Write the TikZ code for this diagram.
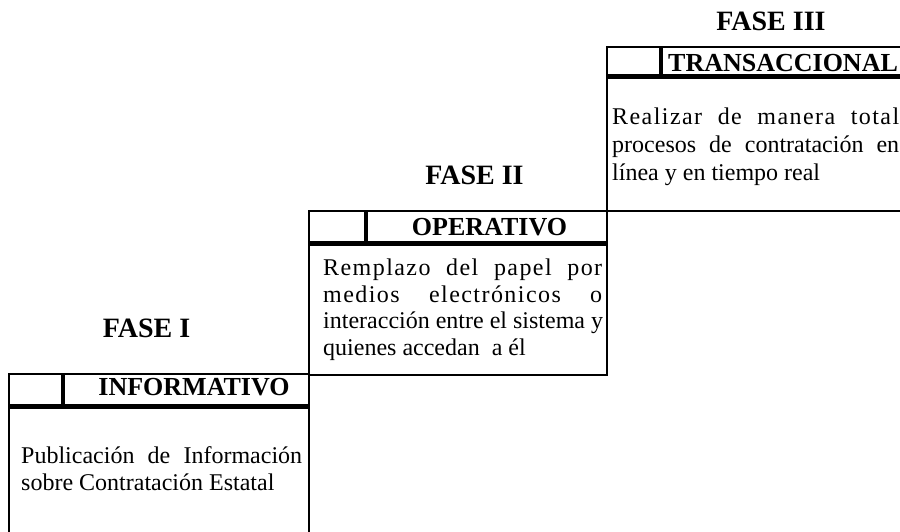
\documentclass[tikz,border=0pt]{standalone}
\usepackage{fontspec}
\setmainfont{Liberation Serif}
\newcommand{\spreadline}[2]{\makebox[#1][s]{\addfontfeature{LetterSpace=6}#2}}
\begin{document}
\begin{tikzpicture}[x=1pt,y=-1pt,
  outline/.style={line width=1.4pt,line cap=rect},
  headrule/.style={line width=5pt},
  divider/.style={line width=4.2pt},
  title/.style={font=\fontsize{28}{30}\selectfont\bfseries,inner sep=0pt,anchor=base},
  header/.style={font=\fontsize{26}{28}\selectfont\bfseries,inner sep=0pt,anchor=base},
  body/.style={font=\fontsize{24}{27}\selectfont,inner sep=0pt,anchor=base west}]
\useasboundingbox (0,0) rectangle (900,532);
\clip (0,0) rectangle (900,532);
% corner coordinates
\coordinate (b1tl) at (9,374);
\coordinate (b1tr) at (309,374);
\coordinate (b1bl) at (9,545);
\coordinate (b1br) at (309,545);
\coordinate (b2tl) at (309,211);
\coordinate (b2br) at (607,375);
\coordinate (b3tl) at (607,47);
\coordinate (b3tr) at (910,47);
\coordinate (b3bl) at (607,211);
\coordinate (b3br) at (910,211);
% box 1
\draw[outline] (b1bl) -- (b1tl) -- (b1tr) -- (b1br);
\draw[headrule] (9,406) -- (309,406);
\draw[divider] (63,374) -- (63,406);
% box 2
\draw[outline] (b2tl) rectangle (b2br);
\draw[headrule] (309,243) -- (607,243);
\draw[divider] (366,211) -- (366,243);
% box 3
\draw[outline] (b3tr) -- (b3tl) -- (b3bl) -- (b3br);
\draw[headrule] (607,77) -- (910,77);
\draw[divider] (661,47) -- (661,77);
% titles
\node[title] (f1) at (146.5,337) {FASE I};
\node[title] (f2) at (474.5,185) {FASE II};
\node[title] (f3) at (771,31) {FASE III};
% headers
\node[header] (h1) at (194,395) {INFORMATIVO};
\node[header] (h2) at (489.5,235) {OPERATIVO};
\node[header,anchor=base west] (h3) at (668,72) {TRANSACCIONAL};
% body box 1
\node[body] (t1a) at (21,463) {\makebox[281pt][s]{Publicación de Información}};
\node[body] (t1b) at (21,490) {sobre Contratación Estatal};
% body box 2
\node[body] (t2a) at (323,275) {\spreadline{279pt}{Remplazo del papel por}};
\node[body] (t2b) at (323,302) {\spreadline{279pt}{medios electrónicos o}};
\node[body] (t2c) at (323,328) {interacción entre el sistema y};
\node[body] (t2d) at (323,355) {quienes accedan\ \ a él};
% body box 3
\node[body] (t3a) at (612,125) {\spreadline{287pt}{Realizar de manera total}};
\node[body] (t3b) at (612,153) {\makebox[287pt][s]{procesos de contratación en}};
\node[body] (t3c) at (612,180) {línea y en tiempo real};
\end{tikzpicture}
\end{document}
